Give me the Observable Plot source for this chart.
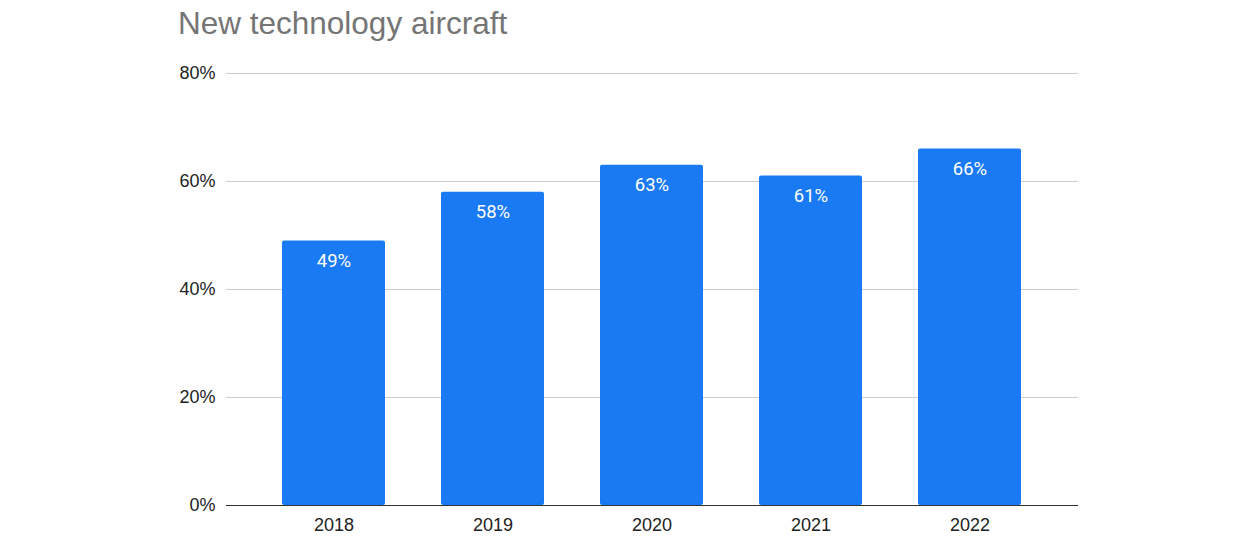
<!DOCTYPE html>
<html><head><meta charset="utf-8">
<script src="https://cdn.jsdelivr.net/npm/d3@7"></script>
<script src="https://cdn.jsdelivr.net/npm/@observablehq/plot@0.6"></script>
<style>
body{margin:0;background:#fff;}
#wrap{position:relative;width:1248px;height:556px;}
#title{position:absolute;left:178px;top:5px;font-family:"Liberation Sans",Arial,sans-serif;font-size:31.5px;color:#757575;white-space:nowrap;}
</style></head>
<body><div id="wrap"><div id="title">New technology aircraft</div></div>
<script>
const years = ["2018","2019","2020","2021","2022"];
const shares = [49, 58, 63, 61, 66];
const yTicks = [0, 20, 40, 60, 80];

const data = years.map((y,i)=>({year:y, value:shares[i]}));
const chart = Plot.plot({
  width:1248, height:556,
  marginTop:73, marginBottom:51, marginLeft:226, marginRight:170,
  style:{fontFamily:"'Liberation Sans', Arial, sans-serif", fontSize:"18px", color:"#222", background:"#fff"},
  x:{domain:years, padding:0.35, label:null, tickSize:0, tickPadding:13},
  y:{domain:[0,80], ticks:yTicks, tickFormat:d=>d+"%", label:null, tickSize:0, tickPadding:11},
  marks:[
    Plot.gridY(yTicks.filter(d=>d>0), {stroke:"#ccc", strokeOpacity:1, strokeWidth:1}),
    Plot.barY(data, {x:"year", y:"value", fill:"#1a7af3", rx:2}),
    Plot.ruleY([0], {stroke:"#333", strokeWidth:1}),
    Plot.text(data, {x:"year", y:"value", text:d=>d.value+"%", dy:20, fill:"#fff", fontSize:18.5, fontFamily:"Roboto, sans-serif"})
  ]
});
document.getElementById("wrap").appendChild(chart);
chart.style.position="absolute"; chart.style.left="0"; chart.style.top="0";
document.getElementById("wrap").appendChild(document.getElementById("title"));
</script></body></html>
